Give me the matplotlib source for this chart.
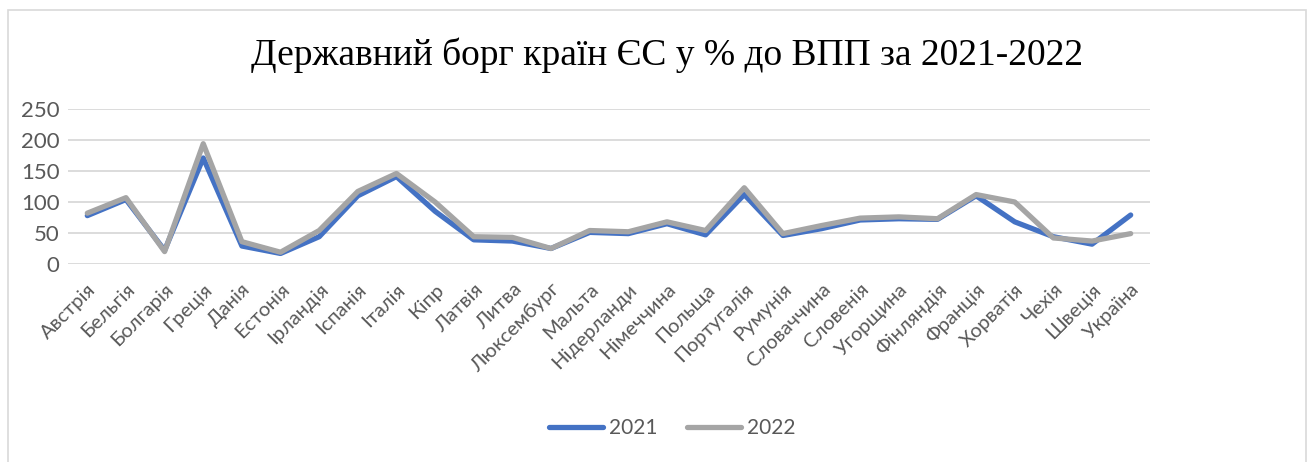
import matplotlib.pyplot as plt
from matplotlib.patches import Rectangle

countries = ['Австрія', 'Бельгія', 'Болгарія', 'Греція', 'Данія', 'Естонія', 'Ірландія',
             'Іспанія', 'Італія', 'Кіпр', 'Латвія', 'Литва', 'Люксембург', 'Мальта',
             'Нідерланди', 'Німеччина', 'Польща', 'Португалія', 'Румунія', 'Словаччина',
             'Словенія', 'Угорщина', 'Фінляндія', 'Франція', 'Хорватія', 'Чехія', 'Швеція',
             'Україна']
debt_2021 = [78, 104, 22, 171, 29, 17, 44, 110, 141, 85, 39, 37, 25, 51, 49, 65, 47,
             112, 46, 57, 71, 73, 72, 110, 68, 44, 32, 79]
debt_2022 = [82, 107, 20, 194, 36, 19, 54, 117, 146, 100, 44, 43, 25, 54, 52, 68, 54,
             123, 49, 62, 74, 76, 73, 112, 100, 42, 37, 49]
years = ['2021', '2022']

plt.rcParams['font.family'] = ['Lato', 'DejaVu Sans']
txt = '#595959'

fig = plt.figure(figsize=(13.16, 4.62), dpi=100)
ax = fig.add_axes([68 / 1316, 1 - 264 / 462, (1150 - 68) / 1316, 155 / 462])

x = range(len(countries))
ax.plot(x, debt_2021, color='#4472C4', lw=3.8, label=years[0], solid_capstyle='round', zorder=3)
ax.plot(x, debt_2022, color='#A5A5A5', lw=3.8, label=years[1], solid_capstyle='round', zorder=4)

ax.set_xlim(-0.5, len(countries) - 0.5)
ax.set_ylim(0, 250)
ax.set_yticks([0, 50, 100, 150, 200, 250])
ax.grid(axis='y', color='#D9D9D9', lw=1.3)
ax.set_axisbelow(True)
for s in ax.spines.values():
    s.set_visible(False)
ax.tick_params(length=0, colors=txt)
ax.tick_params(axis='y', labelsize=16, pad=6)
ax.set_xticks(list(x))
ax.set_xticklabels(countries, rotation=45, ha='right', rotation_mode='anchor', fontsize=14.5)
ax.tick_params(axis='x', pad=12)

fig.text(667 / 1316, 1 - 55 / 462, 'Державний борг країн ЄС у % до ВПП за 2021-2022',
         family='Liberation Serif', fontsize=27, ha='center', va='center', color='black')

leg = ax.legend(loc='center', bbox_to_anchor=(672 / 1316, 1 - 428 / 462),
                bbox_transform=fig.transFigure, ncol=2, frameon=False, fontsize=15,
                handlelength=2.6, columnspacing=1.4, handletextpad=0.3)
for t in leg.get_texts():
    t.set_color(txt)

fig.patches.append(Rectangle((8 / 1316, -0.02), (1306 - 8) / 1316, 1 - 10 / 462 + 0.02,
                             transform=fig.transFigure, fill=False, ec='#D9D9D9', lw=1.2))

fig.savefig('out.png', dpi=100)
